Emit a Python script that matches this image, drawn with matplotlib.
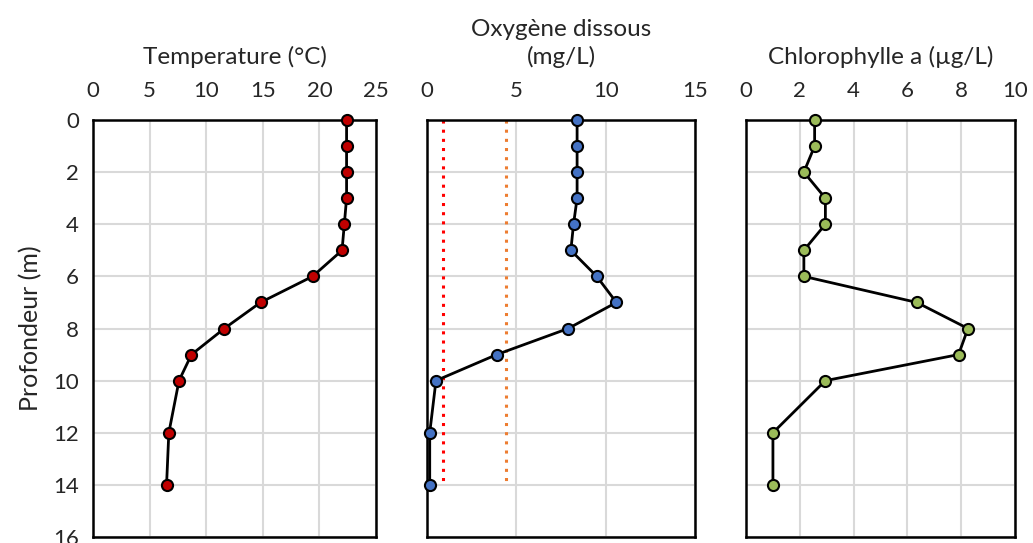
import matplotlib
matplotlib.use("Agg")
import matplotlib.pyplot as plt

plt.rcParams['font.family'] = ['Lato', 'DejaVu Sans']

# data
depth = [0, 1, 2, 3, 4, 5, 6, 7, 8, 9, 10, 12, 14]
temperature = [22.4, 22.4, 22.4, 22.4, 22.2, 22.0, 19.4, 14.8, 11.6, 8.7, 7.6, 6.7, 6.5]
oxygen = [8.4, 8.4, 8.4, 8.4, 8.2, 8.05, 9.5, 10.6, 7.9, 3.9, 0.5, 0.15, 0.15]
chlorophyll = [2.55, 2.55, 2.15, 2.95, 2.95, 2.15, 2.15, 6.35, 8.25, 7.9, 2.95, 1.0, 1.0]
oxygen_limits = [0.9, 4.4]
limit_depths = [0, 14]

titles = ['Temperature (°C)', 'Oxygène dissous\n(mg/L)', 'Chlorophylle a (µg/L)']
xlims = [(0, 25), (0, 15), (0, 10)]
xsteps = [5, 5, 2]
values = [temperature, oxygen, chlorophyll]
colors = ['#C00000', '#4472C4', '#9BBB59']

fig = plt.figure(figsize=(10.33, 5.43), dpi=100)
lefts = [0.090, 0.4134, 0.7222]
widths = [0.274, 0.2594, 0.2604]

for i in range(3):
    ax = fig.add_axes([lefts[i], 0.011, widths[i], 0.768])
    ax.plot(values[i], depth, color='black', linewidth=2, marker='o',
            markersize=8, markerfacecolor=colors[i], markeredgecolor='black',
            markeredgewidth=1.5, zorder=5, clip_on=False)
    if i == 1:
        ax.plot([oxygen_limits[0]] * 2, limit_depths, color='#FF0000',
                linestyle=(0, (1, 2)), linewidth=2.2)
        ax.plot([oxygen_limits[1]] * 2, limit_depths, color='#ED7D31',
                linestyle=(0, (1, 2)), linewidth=2.2)
    lo, hi = xlims[i]
    ax.set_xlim(lo, hi)
    ax.set_xticks(range(lo, hi + 1, xsteps[i]))
    ax.set_ylim(16, 0)
    ax.set_yticks(range(0, 17, 2))
    ax.grid(color='#D9D9D9', linewidth=1.5)
    ax.set_axisbelow(True)
    ax.xaxis.tick_top()
    ax.xaxis.set_label_position('top')
    ax.set_xlabel(titles[i], fontsize=17.5, color='#262626', labelpad=12,
                  linespacing=1.3)
    ax.tick_params(axis='x', length=0, labelsize=16, labelcolor='#262626', pad=14)
    ax.tick_params(axis='y', length=0, labelsize=16, labelcolor='#262626', pad=10)
    if i == 0:
        ax.set_ylabel('Profondeur (m)', fontsize=18, color='#262626', labelpad=8)
    else:
        ax.tick_params(axis='y', labelleft=False)
    for sp in ax.spines.values():
        sp.set_linewidth(1.8)
        sp.set_color('black')

fig.savefig('out.png', dpi=100)
